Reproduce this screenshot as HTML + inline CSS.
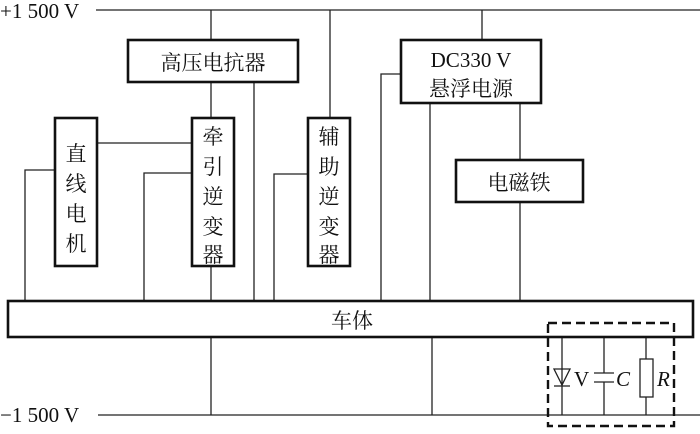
<!DOCTYPE html>
<html><head><meta charset="utf-8"><style>
html,body{margin:0;padding:0;background:#fff}
</style></head><body>
<svg width="700" height="429" viewBox="0 0 700 429" xmlns="http://www.w3.org/2000/svg">
<g stroke="#222" stroke-width="1.3" fill="none">
<line x1="96" y1="10" x2="700" y2="10"/>
<line x1="98" y1="415" x2="700" y2="415"/>
<line x1="211" y1="10" x2="211" y2="40"/>
<line x1="211" y1="82" x2="211" y2="118"/>
<line x1="254" y1="82" x2="254" y2="301"/>
<line x1="330" y1="10" x2="330" y2="118"/>
<line x1="482" y1="10" x2="482" y2="40"/>
<line x1="97" y1="143" x2="192" y2="143"/>
<polyline points="55,170 25,170 25,301"/>
<polyline points="192,173 144,173 144,301"/>
<line x1="211" y1="266" x2="211" y2="301"/>
<polyline points="308,174 274,174 274,301"/>
<polyline points="401,74 381,74 381,301"/>
<line x1="430" y1="103" x2="430" y2="301"/>
<line x1="520" y1="103" x2="520" y2="160"/>
<line x1="520" y1="202" x2="520" y2="301"/>
<line x1="211" y1="337" x2="211" y2="415"/>
<line x1="432" y1="337" x2="432" y2="415"/>
<line x1="562" y1="337" x2="562" y2="415"/>
<line x1="604" y1="337" x2="604" y2="373"/>
<line x1="604" y1="382" x2="604" y2="415"/>
<line x1="646" y1="337" x2="646" y2="359"/>
<line x1="646" y1="397" x2="646" y2="415"/>
<polygon points="554,369 570,369 562,385"/>
<line x1="554" y1="386" x2="570" y2="386"/>
<line x1="594" y1="373" x2="614" y2="373"/>
<line x1="594" y1="382" x2="614" y2="382"/>
<rect x="640" y="359" width="13" height="38" fill="#fff"/>
</g>
<g stroke="#111" stroke-width="2.6" fill="#fff">
<rect x="128" y="40" width="170" height="42"/>
<rect x="55" y="118" width="42" height="148"/>
<rect x="192" y="118" width="42" height="148"/>
<rect x="308" y="118" width="42" height="148"/>
<rect x="401" y="40" width="140" height="63"/>
<rect x="456" y="160" width="127" height="42"/>
<rect x="8" y="301" width="685" height="36"/>
</g>
<rect x="548" y="323" width="126" height="103" fill="none" stroke="#111" stroke-width="2.4" stroke-dasharray="9,5"/>
<g font-size="21" fill="#111" font-family="'Liberation Serif', 'DejaVu Serif', 'Noto Serif CJK SC', 'Noto Sans CJK SC', serif">
<text x="0" y="18" font-size="21">+1 500 V</text>
<text x="0" y="422" font-size="21">−1 500 V</text>
<text x="213" y="70" text-anchor="middle">高压电抗器</text>
<text x="76" y="161" text-anchor="middle">直</text>
<text x="76" y="191" text-anchor="middle">线</text>
<text x="76" y="221" text-anchor="middle">电</text>
<text x="76" y="251" text-anchor="middle">机</text>
<text x="213" y="144" text-anchor="middle">牵</text>
<text x="213" y="174" text-anchor="middle">引</text>
<text x="213" y="204" text-anchor="middle">逆</text>
<text x="213" y="234" text-anchor="middle">变</text>
<text x="213" y="262" text-anchor="middle">器</text>
<text x="329" y="144" text-anchor="middle">辅</text>
<text x="329" y="174" text-anchor="middle">助</text>
<text x="329" y="204" text-anchor="middle">逆</text>
<text x="329" y="234" text-anchor="middle">变</text>
<text x="329" y="262" text-anchor="middle">器</text>
<text x="471" y="67" text-anchor="middle">DC330 V</text>
<text x="471" y="96" text-anchor="middle">悬浮电源</text>
<text x="519" y="190" text-anchor="middle">电磁铁</text>
<text x="352" y="328" text-anchor="middle">车体</text>
<text x="574" y="386">V</text>
<text x="616" y="386" font-style="italic">C</text>
<text x="657" y="386" font-style="italic">R</text>
</g>
</svg>
</body></html>
